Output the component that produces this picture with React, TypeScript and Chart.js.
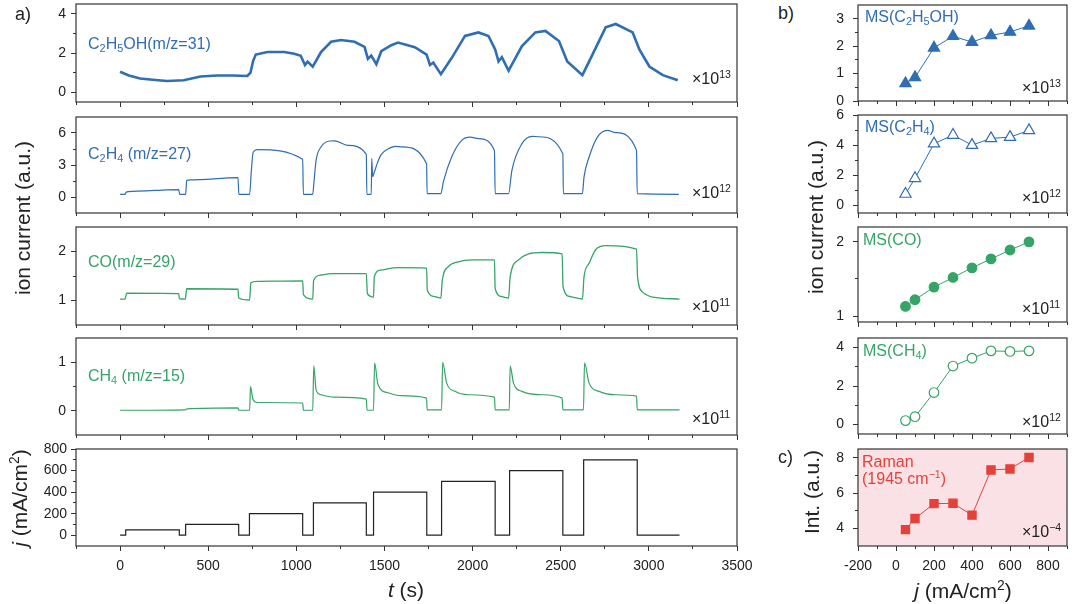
import React, { useEffect, useRef } from 'react';
import { Chart, registerables } from 'chart.js';
Chart.register(...registerables);

const FONT = '"Liberation Sans", Arial, Helvetica, sans-serif';
const BLUE = '#2f6db5';
const GREEN = '#35a466';
const RED = '#e5413b';
const PINK = '#f9e1e5';
const AXIS = '#333333';
const TXT = '#222222';

// ---------- panel a) time series (t in s) ----------
const ethT = [0, 50, 114, 200, 266, 361, 456, 551, 640, 722, 740, 755, 770, 836, 931, 988, 1025, 1049, 1064, 1093, 1140, 1197, 1254, 1330, 1387, 1406, 1425, 1454, 1482, 1539, 1577, 1672, 1739, 1758, 1777, 1820, 1881, 1957, 2033, 2090, 2128, 2147, 2166, 2204, 2280, 2356, 2413, 2490, 2537, 2623, 2680, 2755, 2812, 2908, 2946, 3003, 3079, 3164];
const ethV = [1.04, 0.85, 0.70, 0.62, 0.57, 0.61, 0.80, 0.85, 0.85, 0.83, 1.00, 1.60, 1.92, 2.05, 2.05, 1.96, 1.86, 1.39, 1.56, 1.30, 2.05, 2.57, 2.66, 2.57, 2.31, 1.70, 1.87, 1.43, 2.09, 2.40, 2.53, 2.30, 1.92, 1.39, 1.51, 0.92, 1.74, 2.87, 3.05, 2.87, 2.18, 1.57, 1.79, 1.10, 2.35, 3.05, 3.13, 2.61, 1.57, 0.87, 1.92, 3.31, 3.48, 3.05, 2.18, 1.31, 0.87, 0.61];

const c2h4T = [0, 28, 35, 48, 100, 200, 333, 338, 372, 378, 400, 669, 674, 735, 745, 755, 779, 1036, 1040, 1093, 1100, 1112, 1140, 1188, 1216, 1292, 1397, 1400, 1425, 1428, 1433, 1440, 1460, 1482, 1520, 1560, 1600, 1739, 1742, 1820, 1834, 1881, 1938, 1986, 2033, 2124, 2128, 2204, 2223, 2280, 2337, 2375, 2512, 2515, 2623, 2632, 2661, 2708, 2765, 2812, 2930, 2934, 3170];
const c2h4V = [0.25, 0.25, 0.45, 0.50, 0.56, 0.62, 0.69, 0.25, 0.25, 1.56, 1.60, 1.81, 0.25, 0.25, 2.50, 4.20, 4.44, 3.53, 0.25, 0.25, 1.40, 3.44, 4.69, 5.25, 5.27, 4.84, 4.00, 0.25, 0.25, 3.60, 1.90, 2.20, 3.20, 4.00, 4.50, 4.75, 4.70, 3.12, 0.31, 0.31, 1.41, 3.75, 5.31, 5.62, 5.47, 4.37, 0.31, 0.31, 2.50, 5.00, 5.69, 5.65, 4.06, 0.31, 0.31, 1.87, 3.75, 5.62, 6.25, 6.03, 4.37, 0.31, 0.25];

const coT = [0, 28, 38, 333, 336, 370, 378, 669, 673, 735, 742, 779, 1036, 1040, 1093, 1098, 1140, 1197, 1397, 1403, 1438, 1442, 1478, 1577, 1739, 1743, 1786, 1820, 1828, 1862, 1919, 1995, 2124, 2128, 2166, 2204, 2213, 2261, 2318, 2394, 2508, 2513, 2555, 2623, 2632, 2661, 2699, 2756, 2930, 2936, 2965, 3022, 3174];
const coV = [1.03, 1.03, 1.15, 1.14, 1.04, 1.03, 1.24, 1.23, 1.05, 1.01, 1.36, 1.39, 1.40, 1.12, 1.03, 1.41, 1.52, 1.55, 1.55, 1.14, 1.07, 1.48, 1.62, 1.67, 1.66, 1.21, 1.08, 1.05, 1.41, 1.69, 1.79, 1.83, 1.83, 1.24, 1.08, 1.05, 1.48, 1.83, 1.95, 1.98, 1.95, 1.28, 1.08, 1.03, 1.48, 1.76, 2.04, 2.12, 2.05, 1.48, 1.17, 1.07, 1.03];

const ch4T = [0, 370, 380, 669, 673, 735, 740, 754, 779, 1036, 1040, 1093, 1099, 1112, 1140, 1216, 1397, 1401, 1438, 1444, 1463, 1520, 1596, 1739, 1742, 1824, 1830, 1853, 1900, 1976, 2124, 2128, 2208, 2213, 2232, 2280, 2394, 2508, 2512, 2629, 2635, 2661, 2718, 2812, 2930, 2934, 3174];
const ch4V = [0.01, 0.02, 0.04, 0.06, 0.01, 0.01, 0.50, 0.23, 0.17, 0.16, 0.01, 0.01, 0.93, 0.43, 0.33, 0.28, 0.24, 0.01, 0.01, 0.99, 0.54, 0.37, 0.31, 0.26, 0.02, 0.02, 1.00, 0.57, 0.40, 0.33, 0.28, 0.02, 0.02, 0.92, 0.57, 0.40, 0.33, 0.26, 0.02, 0.02, 0.99, 0.57, 0.40, 0.33, 0.30, 0.02, 0.02];

const jT = [0, 32, 336, 372, 673, 734, 1036, 1097, 1397, 1438, 1740, 1824, 2128, 2210, 2512, 2630, 2934, 3174];
const jV = [0, 50, 0, 100, 0, 200, 0, 300, 0, 400, 0, 500, 0, 600, 0, 700, 0, 0];

// ---------- panels b), c) vs current density ----------
const jPts = [50, 100, 200, 300, 400, 500, 600, 700];
const msEth = [0.64, 0.86, 1.94, 2.36, 2.15, 2.39, 2.52, 2.74];
const msC2H4 = [0.76, 1.80, 4.10, 4.67, 4.00, 4.45, 4.53, 4.98];
const msCO = [1.13, 1.22, 1.39, 1.52, 1.65, 1.77, 1.89, 2.00];
const msCH4 = [0.20, 0.40, 1.66, 3.04, 3.45, 3.83, 3.80, 3.83];
const raman = [3.93, 4.56, 5.40, 5.42, 4.75, 7.31, 7.37, 8.02];

// ---------- tick values ----------
const tMajor = [0, 500, 1000, 1500, 2000, 2500, 3000, 3500];
const tMinor = [-250, 250, 750, 1250, 1750, 2250, 2750, 3250];
const jxMajor = [-200, 0, 200, 400, 600, 800];
const jxMinor = [-100, 100, 300, 500, 700, 900];

const zip = (xs: number[], ys: number[]) => xs.map((x, i) => ({ x, y: ys[i] }));

interface Spec {
  area: [number, number, number, number]; // left, top, right, bottom
  yW: number;
  padR: number;
  xMin: number; xMax: number; xMaj: number[]; xMin2: number[]; xLabels: boolean;
  yMin: number; yMax: number; yMaj: number[]; yMin2: number[];
  yPad: number;
  datasets: any[];
  bg?: string;
}

const PADT = 10;

function Panel({ s }: { s: Spec }) {
  const ref = useRef<HTMLCanvasElement>(null);
  const [l, t, r, b] = s.area;
  const xH = s.xLabels ? 36 : 8;
  const left = l - s.yW;
  const top = t - PADT;
  const width = r - l + s.yW + s.padR;
  const height = b - t + PADT + xH;
  useEffect(() => {
    const tickFont = { family: FONT, size: 14 };
    const frame = {
      id: 'frame',
      beforeDatasetsDraw(chart: any) {
        if (!s.bg) return;
        const { ctx, chartArea: a } = chart;
        ctx.save();
        ctx.fillStyle = s.bg;
        ctx.fillRect(a.left, a.top, a.right - a.left, a.bottom - a.top);
        ctx.restore();
      },
      afterDraw(chart: any) {
        const { ctx, chartArea: a } = chart;
        ctx.save();
        ctx.strokeStyle = AXIS;
        ctx.lineWidth = 1.2;
        ctx.strokeRect(a.left, a.top, a.right - a.left, a.bottom - a.top);
        ctx.restore();
      },
    };
    const fitX = (h: number) => (sc: any) => { sc.height = h; sc.paddingLeft = 0; sc.paddingRight = 0; };
    const fitY = (w: number) => (sc: any) => { sc.width = w; sc.paddingTop = 0; sc.paddingBottom = 0; };
    const setTicks = (vals: number[]) => (sc: any) => { sc.ticks = vals.map((v) => ({ value: v })); };
    const chart = new Chart(ref.current as HTMLCanvasElement, {
      type: 'line',
      data: { datasets: s.datasets },
      plugins: [frame],
      options: {
        animation: false,
        responsive: true,
        maintainAspectRatio: false,
        events: [],
        layout: { padding: { top: PADT, right: s.padR, left: 0, bottom: 0 } },
        plugins: { legend: { display: false }, tooltip: { enabled: false } },
        scales: {
          x: {
            type: 'linear', position: 'bottom', weight: 1, min: s.xMin, max: s.xMax,
            afterBuildTicks: setTicks(s.xMaj), afterFit: fitX(xH),
            grid: { drawOnChartArea: false, drawTicks: true, tickLength: 5, color: AXIS },
            border: { display: false },
            ticks: { display: s.xLabels, autoSkip: false, maxRotation: 0, padding: 7, color: TXT, font: tickFont, callback: (v: any) => String(v) },
          },
          xm: {
            type: 'linear', position: 'bottom', weight: 0, min: s.xMin, max: s.xMax,
            afterBuildTicks: setTicks(s.xMin2), afterFit: fitX(0),
            grid: { drawOnChartArea: false, drawTicks: true, tickLength: 3, color: AXIS },
            border: { display: false },
            ticks: { display: false },
          },
          y: {
            type: 'linear', position: 'left', weight: 1, min: s.yMin, max: s.yMax,
            afterBuildTicks: setTicks(s.yMaj), afterFit: fitY(s.yW),
            grid: { drawOnChartArea: false, drawTicks: true, tickLength: 5, color: AXIS },
            border: { display: false },
            ticks: { autoSkip: false, padding: s.yPad, color: TXT, font: tickFont, callback: (v: any) => String(v) },
          },
          ym: {
            type: 'linear', position: 'left', weight: 0, min: s.yMin, max: s.yMax,
            afterBuildTicks: setTicks(s.yMin2), afterFit: fitY(0),
            grid: { drawOnChartArea: false, drawTicks: true, tickLength: 3, color: AXIS },
            border: { display: false },
            ticks: { display: false },
          },
        },
      } as any,
    });
    return () => chart.destroy();
  }, []);
  return (
    <div style={{ position: 'absolute', left, top, width, height }}>
      <canvas ref={ref} />
    </div>
  );
}

const trace = (xs: number[], ys: number[], color: string, w: number, smooth: boolean) => ({
  data: zip(xs, ys),
  borderColor: color,
  borderWidth: w,
  pointRadius: 0,
  fill: false,
  cubicInterpolationMode: smooth ? 'monotone' : 'default',
  tension: 0,
});

const marks = (ys: number[], color: string, style: string, filled: boolean, radius: number) => ({
  data: zip(jPts, ys),
  borderColor: color,
  borderWidth: 1,
  pointStyle: style,
  pointRadius: radius,
  pointBackgroundColor: filled ? color : '#ffffff',
  pointBorderColor: color,
  pointBorderWidth: 1.2,
  fill: false,
  tension: 0,
});

const LA = { yW: 76, padR: 20, xMin: -250, xMax: 3500, xMaj: tMajor, xMin2: tMinor, yPad: 5 };
const RA = { yW: 58, padR: 13, xMin: -200, xMax: 900, xMaj: jxMajor, xMin2: jxMinor, yPad: 9 };

const specs: Spec[] = [
  { ...LA, area: [76, 4, 737, 102], xLabels: false, yMin: -0.5, yMax: 4.5, yMaj: [0, 2, 4], yMin2: [1, 3], datasets: [trace(ethT, ethV, BLUE, 2.6, false)] },
  { ...LA, area: [76, 117, 737, 213], xLabels: false, yMin: -1.5, yMax: 7.5, yMaj: [0, 3, 6], yMin2: [1.5, 4.5], datasets: [trace(c2h4T, c2h4V, BLUE, 1.2, true)] },
  { ...LA, area: [76, 227, 737, 325], xLabels: false, yMin: 0.5, yMax: 2.5, yMaj: [1, 2], yMin2: [1.5], datasets: [trace(coT, coV, GREEN, 1.3, true)] },
  { ...LA, area: [76, 338, 737, 435], xLabels: false, yMin: -0.5, yMax: 1.5, yMaj: [0, 1], yMin2: [0.5], datasets: [trace(ch4T, ch4V, GREEN, 1.2, true)] },
  { ...LA, area: [76, 449, 737, 546], xLabels: true, yMin: -100, yMax: 800, yMaj: [0, 200, 400, 600, 800], yMin2: [100, 300, 500, 700], yPad: 4,
    datasets: [{ ...trace(jT, jV, '#222222', 1.2, false), stepped: 'before' }] },
  { ...RA, area: [858, 5, 1067, 101], xLabels: false, yMin: 0, yMax: 3.5, yMaj: [0, 1, 2, 3], yMin2: [0.5, 1.5, 2.5], datasets: [marks(msEth, BLUE, 'triangle', true, 6.5)] },
  { ...RA, area: [858, 115, 1067, 213], xLabels: false, yMin: -0.5, yMax: 6, yMaj: [0, 2, 4, 6], yMin2: [1, 3, 5], datasets: [marks(msC2H4, BLUE, 'triangle', false, 6.5)] },
  { ...RA, area: [858, 227, 1067, 322], xLabels: false, yMin: 0.92, yMax: 2.2, yMaj: [1, 2], yMin2: [1.5], datasets: [marks(msCO, GREEN, 'circle', true, 4.8)] },
  { ...RA, area: [858, 338, 1067, 434], xLabels: false, yMin: -0.5, yMax: 4.5, yMaj: [0, 2, 4], yMin2: [1, 3], datasets: [marks(msCH4, GREEN, 'circle', false, 4.8)] },
  { ...RA, area: [858, 449, 1067, 546], xLabels: true, yMin: 3, yMax: 8.5, yMaj: [4, 6, 8], yMin2: [5, 7], bg: PINK, datasets: [marks(raman, RED, 'rect', true, 5.8)] },
];

const sub = (s: string) => <sub style={{ fontSize: '0.68em', verticalAlign: '-0.28em', lineHeight: 0 }}>{s}</sub>;
const sup = (s: string) => <sup style={{ fontSize: '0.66em', verticalAlign: '0.55em', lineHeight: 0 }}>{s}</sup>;

function Txt({ x, base, size = 16, color = TXT, children }: any) {
  return (
    <div style={{ position: 'absolute', left: x, top: base - 0.8465 * size, fontFamily: FONT, fontSize: size, lineHeight: 1, color, whiteSpace: 'nowrap' }}>
      {children}
    </div>
  );
}

function Title({ cx, cy, size = 21, rotate = false, children }: any) {
  const shift = 0.086 * size;
  return (
    <div style={{
      position: 'absolute', left: rotate ? cx - shift : cx, top: rotate ? cy : cy - shift,
      transform: rotate ? 'translate(-50%,-50%) rotate(-90deg)' : 'translate(-50%,-50%)',
      fontFamily: FONT, fontSize: size, lineHeight: 1, color: TXT, whiteSpace: 'nowrap',
    }}>
      {children}
    </div>
  );
}

const Exp = ({ x, base, e }: any) => <Txt x={x} base={base}>×10{sup(e)}</Txt>;

export default function App() {
  return (
    <div style={{ position: 'fixed', left: 0, top: 0, width: 1080, height: 604, background: '#ffffff', overflow: 'hidden' }}>
      {specs.map((s, i) => <Panel key={i} s={s} />)}

      <Txt x={15} base={20.5} size={18}>a)</Txt>
      <Txt x={778} base={19} size={18}>b)</Txt>
      <Txt x={778} base={463.5} size={18}>c)</Txt>

      <Txt x={88} base={49.3} color={BLUE}>C{sub('2')}H{sub('5')}OH(m/z=31)</Txt>
      <Txt x={88} base={159.3} color={BLUE}>C{sub('2')}H{sub('4')} (m/z=27)</Txt>
      <Txt x={88} base={267.3} color={GREEN}>CO(m/z=29)</Txt>
      <Txt x={88} base={381.7} color={GREEN}>CH{sub('4')} (m/z=15)</Txt>

      <Exp x={692} base={85} e="13" />
      <Exp x={692} base={199} e="12" />
      <Exp x={692} base={313} e="11" />
      <Exp x={692} base={425} e="11" />

      <Txt x={865} base={22.7} color={BLUE}>MS(C{sub('2')}H{sub('5')}OH)</Txt>
      <Txt x={865} base={132.7} color={BLUE}>MS(C{sub('2')}H{sub('4')})</Txt>
      <Txt x={863} base={246} color={GREEN}>MS(CO)</Txt>
      <Txt x={863} base={356.7} color={GREEN}>MS(CH{sub('4')})</Txt>
      <Txt x={862} base={467.7} color={RED}>Raman</Txt>
      <Txt x={862} base={485} color={RED}>(1945 cm{sup('−1')})</Txt>

      <Exp x={1022} base={94} e="13" />
      <Exp x={1022} base={204} e="12" />
      <Exp x={1022} base={315} e="11" />
      <Exp x={1022} base={428} e="12" />
      <Exp x={1022} base={538} e="−4" />

      <Title cx={24} cy={218} rotate>ion current (a.u.)</Title>
      <Title cx={21} cy={498} rotate><i>j</i> (mA/cm{sup('2')})</Title>
      <Title cx={816.7} cy={216.7} rotate>ion current (a.u.)</Title>
      <Title cx={813} cy={492} rotate>Int. (a.u.)</Title>
      <Title cx={406} cy={590.5}><i>t</i> (s)</Title>
      <Title cx={963} cy={591.7}><i>j</i> (mA/cm{sup('2')})</Title>
    </div>
  );
}
